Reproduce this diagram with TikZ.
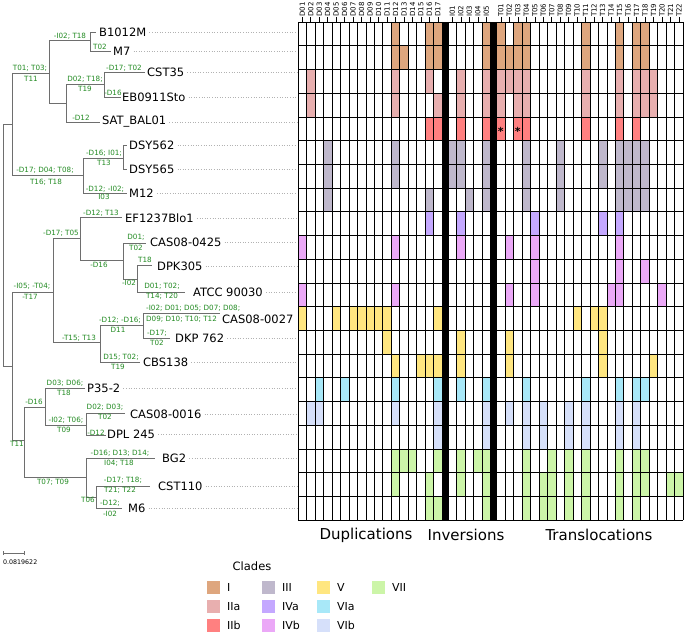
\documentclass[tikz,border=0pt]{standalone}
\usepackage{fontspec}
\setmainfont{DejaVu Sans}
\definecolor{cI}{RGB}{222,166,126}
\definecolor{cIIa}{RGB}{232,175,175}
\definecolor{cIIb}{RGB}{255,128,128}
\definecolor{cIII}{RGB}{191,184,204}
\definecolor{cIVa}{RGB}{196,168,255}
\definecolor{cIVb}{RGB}{235,168,247}
\definecolor{cV}{RGB}{255,230,128}
\definecolor{cVIa}{RGB}{168,232,248}
\definecolor{cVIb}{RGB}{214,224,250}
\definecolor{cVII}{RGB}{204,245,168}
\definecolor{brgray}{RGB}{110,110,110}
\definecolor{lbgreen}{RGB}{34,139,34}
\begin{document}
\begin{tikzpicture}[x=1pt,y=-1pt,
  br/.style={draw=brgray, line width=0.7pt},
  lead/.style={draw=gray!60, dotted, line width=0.6pt},
  taxon/.style={anchor=west, inner sep=0pt, font=\fontsize{11.5}{12}\selectfont},
  gl/.style={text=lbgreen, inner sep=0pt, font=\fontsize{7.2}{8}\selectfont},
  hdr/.style={rotate=90, anchor=west, inner sep=0pt, font=\fontsize{7}{7}\selectfont},
  gridline/.style={draw=black, line width=0.65pt},
  cat/.style={inner sep=0pt, font=\fontsize{15}{16}\selectfont},
  legtxt/.style={anchor=west, inner sep=0pt, font=\fontsize{11}{12}\selectfont},
  legbox/.style={inner sep=0pt, minimum size=13pt, draw=none},
  astk/.style={inner sep=0pt, font=\fontsize{11}{11}\selectfont\bfseries}
]
\useasboundingbox (0,0) rectangle (685,634);
\fill[white] (0,0) rectangle (685,634);

% ---------------- matrix fills ----------------
\foreach \r/\cc/\dl/\il/\tl in {
 1/cI/{12,16,17}/{5}/{1,3,4,11,15,17,18},
 2/cI/{12,13,16,17}/{5}/{1,2,3,4,11,15,17,18},
 3/cIIa/{2,12,16}/{2,5}/{1,2,3,4,11,15,17,18,19},
 4/cIIa/{2,12,17}/{2,5}/{1,3,4,11,15,17,18,19},
 5/cIIb/{16,17}/{2,5}/{1,3,4,11,15,17},
 6/cIII/{4,12}/{1,2,5}/{4,8,13,15,16,17,18},
 7/cIII/{4,12}/{1,2,5}/{4,8,13,15,16,17,18},
 8/cIII/{4,16}/{3,5}/{4,8,15,16,17,18},
 9/cIVa/{16}/{2}/{5,13,15},
 10/cIVb/{1,12}/{2}/{2,5,15},
 11/cIVb/{0}/{0}/{5,15,18},
 12/cIVb/{1,12}/{0}/{2,5,14,15,20},
 13/cV/{1,5,7,8,9,10,11,17}/{0}/{10,12,13},
 14/cV/{11}/{2}/{2,13},
 15/cV/{12,15,16,17}/{2}/{2,13,19},
 16/cVIa/{3,6,12,17}/{2,5}/{4,11,15,17,18},
 17/cVIb/{2,3,12,17}/{5}/{2,4,6,9,11,15,17},
 18/cVIb/{17}/{5}/{4,6,9,11,15,17},
 19/cVII/{12,13,14,17}/{2,4,5}/{4,7,9,11,15,17,18},
 20/cVII/{12,16}/{2,5}/{4,6,7,9,11,15,17,18,21,22},
 21/cVII/{16,17}/{5}/{4,6,7,9,11,15,17}}{
  \foreach \k in \dl {\ifnum\k>0 \fill[\cc] ({298+(\k-1)*8.48},{22+(\r-1)*23.714}) rectangle ++(8.48,23.714);\fi}
  \foreach \k in \il {\ifnum\k>0 \fill[\cc] ({448.2+(\k-1)*8.48},{22+(\r-1)*23.714}) rectangle ++(8.48,23.714);\fi}
  \foreach \k in \tl {\ifnum\k>0 \fill[\cc] ({496.6+(\k-1)*8.48},{22+(\r-1)*23.714}) rectangle ++(8.48,23.714);\fi}
}

% asterisks
\node[astk] (ast1) at ({496.6+4.24},131) {*};
\node[astk] (ast2) at ({496.6+2*8.48+4.24},131) {*};

% ---------------- grid ----------------
\foreach \k in {0,...,17} {\draw[gridline] ({298+\k*8.48},22) -- ({298+\k*8.48},520);}
\foreach \k in {0,...,5} {\draw[gridline] ({448.2+\k*8.48},22) -- ({448.2+\k*8.48},520);}
\foreach \k in {0,...,22} {\draw[gridline] ({496.6+\k*8.48},22) -- ({496.6+\k*8.48},520);}
\foreach \r in {0,...,21} {\draw[gridline] (298,{22+\r*23.714}) -- (683.2,{22+\r*23.714});}
\fill[black] (442.2,21.7) rectangle (448.2,520.3);
\fill[black] (490.6,21.7) rectangle (496.6,520.3);

% ---------------- column headers ----------------
\foreach \k in {1,...,17} {
  \node[hdr] (hD\k) at ({298+(\k-0.5)*8.48},17) {D\ifnum\k<10 0\fi\k};
  \draw[line width=0.5pt] ({298+(\k-0.5)*8.48},17.5) -- ({298+(\k-0.5)*8.48},22);
}
\foreach \k in {1,...,5} {
  \node[hdr] (hI\k) at ({448.2+(\k-0.5)*8.48},17) {I0\k};
  \draw[line width=0.5pt] ({448.2+(\k-0.5)*8.48},17.5) -- ({448.2+(\k-0.5)*8.48},22);
}
\foreach \k in {1,...,22} {
  \node[hdr] (hT\k) at ({496.6+(\k-0.5)*8.48},17) {T\ifnum\k<10 0\fi\k};
  \draw[line width=0.5pt] ({496.6+(\k-0.5)*8.48},17.5) -- ({496.6+(\k-0.5)*8.48},22);
}

% ---------------- tree ----------------
\coordinate (gl) at (297,0);
\coordinate (nR) at (3,245);
\coordinate (nA) at (12,124);
\coordinate (nA1) at (49,73);
\coordinate (nI) at (90,40);
\coordinate (nII) at (66,103);
\coordinate (nIIa) at (104,84);
\coordinate (nIII) at (83,175);
\coordinate (nIIIa) at (123,158);
\coordinate (nB) at (12,366);
\coordinate (nB1) at (53,292);
\coordinate (nIV) at (80,238);
\coordinate (nIVb) at (123,260);
\coordinate (nIVc) at (137,279);
\coordinate (nV) at (100,342);
\coordinate (nVa) at (143,325);
\coordinate (nB2) at (24,440);
\coordinate (nVI) at (45,407);
\coordinate (nVIb) at (86,425);
\coordinate (nVII) at (86,477);
\coordinate (nVIIb) at (96,497);
% tips
\coordinate (k1) at (96,32);
\coordinate (k2) at (111,51);
\coordinate (k3) at (145,72);
\coordinate (k4) at (121,97);
\coordinate (k5) at (100,122);
\coordinate (k6) at (127,145);
\coordinate (k7) at (127,169);
\coordinate (k8) at (127,193);
\coordinate (k9) at (122,217);
\coordinate (k10) at (146,243);
\coordinate (k11) at (152,265);
\coordinate (k12) at (185,292);
\coordinate (k13) at (220,313);
\coordinate (k14) at (170,338);
\coordinate (k15) at (140,362);
\coordinate (k16) at (85,388);
\coordinate (k17) at (125,413);
\coordinate (k18) at (106,435);
\coordinate (k19) at (155,458);
\coordinate (k20) at (150,486);
\coordinate (k21) at (122,508);

\draw[br] (nR) |- (nA);
\draw[br] (nR) |- (nB);
\draw[br] (nA) |- (nA1);
\draw[br] (nA) |- (nIII);
\draw[br] (nA1) |- (nI);
\draw[br] (nA1) |- (nII);
\draw[br] (nI) |- (k1);
\draw[br] (nI) |- (k2);
\draw[br] (nII) |- (nIIa);
\draw[br] (nII) |- (k5);
\draw[br] (nIIa) |- (k3);
\draw[br] (nIIa) |- (k4);
\draw[br] (nIII) |- (nIIIa);
\draw[br] (nIII) |- (k8);
\draw[br] (nIIIa) |- (k6);
\draw[br] (nIIIa) |- (k7);
\draw[br] (nB) |- (nB1);
\draw[br] (nB) |- (nB2);
\draw[br] (nB1) |- (nIV);
\draw[br] (nB1) |- (nV);
\draw[br] (nIV) |- (k9);
\draw[br] (nIV) |- (nIVb);
\draw[br] (nIVb) |- (k10);
\draw[br] (nIVb) |- (nIVc);
\draw[br] (nIVc) |- (k11);
\draw[br] (nIVc) |- (k12);
\draw[br] (nV) |- (nVa);
\draw[br] (nV) |- (k15);
\draw[br] (nVa) |- (k13);
\draw[br] (nVa) |- (k14);
\draw[br] (nB2) |- (nVI);
\draw[br] (nB2) |- (nVII);
\draw[br] (nVI) |- (k16);
\draw[br] (nVI) |- (nVIb);
\draw[br] (nVIb) |- (k17);
\draw[br] (nVIb) |- (k18);
\draw[br] (nVII) |- (k19);
\draw[br] (nVII) |- (nVIIb);
\draw[br] (nVIIb) |- (k20);
\draw[br] (nVIIb) |- (k21);

% taxon names
\node[taxon] (t1) at (99,32) {B1012M};
\node[taxon] (t2) at (113,51) {M7};
\node[taxon] (t3) at (147,72) {CST35};
\node[taxon] (t4) at (122,97) {EB0911Sto};
\node[taxon] (t5) at (102,122) {SAT\_BAL01};
\node[taxon] (t6) at (129,145) {DSY562};
\node[taxon] (t7) at (129,169) {DSY565};
\node[taxon] (t8) at (129,193) {M12};
\node[taxon] (t9) at (125,218) {EF1237Blo1};
\node[taxon] (t10) at (150,242) {CAS08-0425};
\node[taxon] (t11) at (157,266) {DPK305};
\node[taxon] (t12) at (193,292) {ATCC 90030};
\node[taxon] (t13) at (222,319) {CAS08-0027};
\node[taxon] (t14) at (175,338) {DKP 762};
\node[taxon] (t15) at (143,362) {CBS138};
\node[taxon] (t16) at (87,388) {P35-2};
\node[taxon] (t17) at (130,414) {CAS08-0016};
\node[taxon] (t18) at (107,434) {DPL 245};
\node[taxon] (t19) at (162,458) {BG2};
\node[taxon] (t20) at (158,486) {CST110};
\node[taxon] (t21) at (128,508) {M6};
\foreach \i in {1,...,12,14,15,16,17,18,19,20,21} {
  \draw[lead] ([xshift=3pt]t\i.east) -- (t\i.east -| gl);
}

% branch labels
\node[gl] (b1) at (70,36) {-I02; T18};
\node[gl] (b2) at (100,47) {T02};
\node[gl] (b3a) at (30,68) {T01; T03;};
\node[gl] (b3b) at (31,79) {T11};
\node[gl] (b4a) at (85,79) {D02; T18;};
\node[gl] (b4b) at (85,89) {T19};
\node[gl] (b5) at (124,68) {-D17; T02};
\node[gl] (b6) at (113,93) {-D16};
\node[gl] (b7) at (81,118) {-D12};
\node[gl] (b8a) at (45,170) {-D17; D04; T08;};
\node[gl] (b8b) at (46,182) {T16; T18};
\node[gl] (b9a) at (104,153) {-D16; I01;};
\node[gl] (b9b) at (104,163) {T13};
\node[gl] (b10a) at (105,189) {-D12; -I02;};
\node[gl] (b10b) at (104,197) {I03};
\node[gl] (b11) at (61,233) {-D17; T05};
\node[gl] (b12) at (101,213) {-D12; T13};
\node[gl] (b13) at (99,265) {-D16};
\node[gl] (b14a) at (136,237) {D01;};
\node[gl] (b14b) at (136,248) {T02};
\node[gl] (b15) at (129,283) {-I02};
\node[gl] (b16) at (145,260) {T18};
\node[gl] (b17a) at (162,286) {D01; T02;};
\node[gl] (b17b) at (162,296) {T14; T20};
\node[gl] (b18a) at (32,286) {-I05; -T04;};
\node[gl] (b18b) at (30,297) {-T17};
\node[gl] (b19) at (79,338) {-T15; T13};
\node[gl] (b20a) at (120,320) {-D12; -D16;};
\node[gl] (b20b) at (118,330) {D11};
\node[gl, anchor=west] (b21a) at (146,308) {-I02; D01; D05; D07; D08;};
\node[gl, anchor=west] (b21b) at (146,319) {D09; D10; T10; T12};
\node[gl] (b22a) at (157,333) {-D17;};
\node[gl] (b22b) at (157,343) {T02};
\node[gl] (b23a) at (121,357) {D15; T02;};
\node[gl] (b23b) at (118,367) {T19};
\node[gl] (b24a) at (65,383) {D03; D06;};
\node[gl] (b24b) at (64,393) {T18};
\node[gl] (b25) at (34,402) {-D16};
\node[gl] (b26a) at (66,420) {-I02; T06;};
\node[gl] (b26b) at (64,430) {T09};
\node[gl] (b27a) at (105,407) {D02; D03;};
\node[gl] (b27b) at (105,417) {T02};
\node[gl] (b28) at (96,433) {-D12};
\node[gl] (b29) at (17,444) {T11};
\node[gl] (b30) at (53,482) {T07; T09};
\node[gl] (b31a) at (120,453) {-D16; D13; D14;};
\node[gl] (b31b) at (119,463) {I04; T18};
\node[gl] (b32) at (88,500) {T06};
\node[gl] (b33a) at (123,480) {-D17; T18;};
\node[gl] (b33b) at (120,490) {T21; T22};
\node[gl] (b34a) at (110,503) {-D12;};
\node[gl] (b34b) at (110,514) {-I02};

% scale bar
\coordinate (sb1) at (3,553);
\coordinate (sb2) at (24,553);
\draw[line width=0.6pt, draw=brgray] (sb1) -- (sb2);
\draw[line width=0.6pt, draw=brgray] ([yshift=2pt]sb1) -- ([yshift=-2pt]sb1);
\draw[line width=0.6pt, draw=brgray] ([yshift=2pt]sb2) -- ([yshift=-2pt]sb2);
\node[anchor=west, inner sep=0pt, font=\fontsize{6.3}{7}\selectfont] (sbt) at (3,562) {0.0819622};

% category labels
\node[cat] (cD) at (366,535) {Duplications};
\node[cat] (cInv) at (466,535) {Inversions};
\node[cat] (cT) at (599,535) {Translocations};

% legend
\node[inner sep=0pt, font=\fontsize{11.5}{12}\selectfont] (lt) at (252,566) {Clades};
\foreach \cc/\lab/\lx/\ly in {cI/I/207/581, cIIa/IIa/207/600, cIIb/IIb/207/619,
  cIII/III/262/581, cIVa/IVa/262/600, cIVb/IVb/262/619,
  cV/V/317/581, cVIa/VIa/317/600, cVIb/VIb/317/619, cVII/VII/372/581} {
  \node[legbox, fill=\cc, anchor=north west] (lb\lab) at (\lx,\ly) {};
  \node[legtxt] (ll\lab) at ({\lx+20},{\ly+6.5}) {\lab};
}
\end{tikzpicture}
\end{document}
